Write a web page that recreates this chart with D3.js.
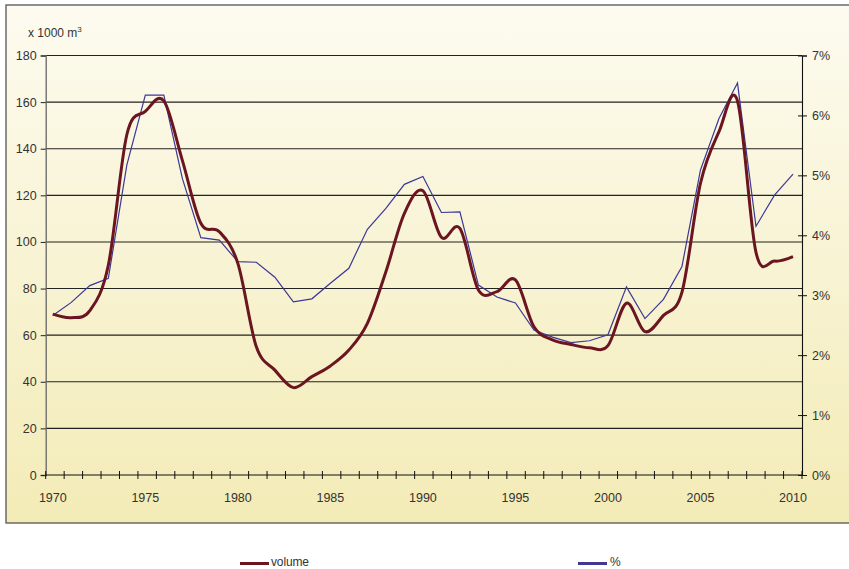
<!DOCTYPE html>
<html><head><meta charset="utf-8">
<script src="https://cdn.jsdelivr.net/npm/d3@7"></script>
<style>body{margin:0;background:#fff}svg{display:block}text{font-family:"Liberation Sans",Arial,sans-serif;fill:#333}</style>
</head><body>
<svg id="c" width="849" height="569"></svg>
<script>
const years = d3.range(1970, 2011);
const volume = [69,67.5,70.5,90,146,156,160.5,135,108,104.4,90.8,55,45,37.5,42.2,46.8,53.6,65.1,87.2,112.3,122,102,105.8,79.4,78.7,83.7,63.6,58,56,54.6,55.5,73.7,61.5,68.5,78.5,125.2,147.3,160.5,95.5,91.8,93.7];
const percent = [2.66,2.88,3.16,3.28,5.17,6.34,6.34,4.95,3.96,3.92,3.56,3.55,3.30,2.89,2.94,3.2,3.45,4.10,4.45,4.85,4.98,4.38,4.39,3.17,2.97,2.87,2.42,2.30,2.21,2.24,2.34,3.14,2.61,2.93,3.48,5.09,5.95,6.54,4.15,4.67,5.02];
const leftTicks = [0,20,40,60,80,100,120,140,160,180];
const rightTicks = [0,1,2,3,4,5,6,7];
const labelYears = [1970,1975,1980,1985,1990,1995,2000,2005,2010];

const svg = d3.select("#c");
const defs = svg.append("defs");
const g = defs.append("linearGradient").attr("id","bg").attr("x1",0).attr("y1",0).attr("x2",0).attr("y2",1);
g.append("stop").attr("offset","0%").attr("stop-color","#fdfbf0");
g.append("stop").attr("offset","100%").attr("stop-color","#f3ebb6");
svg.append("rect").attr("x",6).attr("y",5).attr("width",860).attr("height",518)
  .attr("fill","url(#bg)").attr("stroke","#555").attr("stroke-width",1.3);

const y = d3.scaleLinear().domain([0,180]).range([475,55.5]);
const yr = d3.scaleLinear().domain([0,7]).range([475,55.5]);
const xb = d3.scaleBand().domain(years).range([45.7,802]);
const xp = d3.scalePoint().domain(years).range([52.8,793]);

// gridlines
svg.append("g").selectAll("line").data(leftTicks.slice(1)).join("line")
  .attr("x1",45.7).attr("x2",802).attr("y1",d=>y(d)).attr("y2",d=>y(d))
  .attr("stroke","#222").attr("stroke-width",1.1);

// left axis
const la = svg.append("g").attr("transform","translate(45.7,0)")
  .call(d3.axisLeft(y).tickValues(leftTicks).tickSize(5).tickPadding(4));
la.select(".domain").attr("stroke","#666").attr("stroke-width",1.3);
la.selectAll(".tick line").attr("stroke","#222");
la.selectAll("text").style("font-size","12.5px").attr("fill","#333");

// right axis
const ra = svg.append("g").attr("transform","translate(802,0)")
  .call(d3.axisRight(yr).tickValues(rightTicks).tickFormat(d=>d+"%").tickSize(5).tickPadding(5));
ra.select(".domain").attr("stroke","#111").attr("stroke-width",1.1);
ra.selectAll(".tick line").attr("x1",-4).attr("stroke","#111");
ra.selectAll("text").style("font-size","12.5px").attr("fill","#333");

// x axis
const bounds = years.map(d=>xb(d)).concat([802]);
const xa = svg.append("g");
xa.append("line").attr("x1",45.7).attr("x2",802).attr("y1",475).attr("y2",475).attr("stroke","#111").attr("stroke-width",1.1);
xa.selectAll("line.t").data(bounds).join("line").attr("class","t")
  .attr("x1",d=>d).attr("x2",d=>d).attr("y1",471).attr("y2",479).attr("stroke","#111");
xa.selectAll("text").data(labelYears).join("text")
  .attr("x",d=>xp(d)).attr("y",502).attr("text-anchor","middle").style("font-size","12.5px").text(d=>d);

// axis title
const t = svg.append("text").attr("x",28).attr("y",37).style("font-size","12px");
t.append("tspan").text("x 1000 m");
t.append("tspan").attr("dy",-5).style("font-size","8px").text("3");

// lines
svg.append("path").datum(percent)
  .attr("d", d3.line().x((d,i)=>xp(years[i])).y(d=>yr(d)))
  .attr("fill","none").attr("stroke","#3d3796").attr("stroke-width",1.2);
svg.append("path").datum(volume)
  .attr("d", d3.line().x((d,i)=>xp(years[i])).y(d=>y(d)).curve(d3.curveCardinal.tension(0)))
  .attr("fill","none").attr("stroke","#6b1520").attr("stroke-width",3).attr("stroke-linejoin","round");

// legend
const lg = svg.append("g");
lg.append("line").attr("x1",240).attr("x2",269).attr("y1",563.5).attr("y2",563.5).attr("stroke","#6b1520").attr("stroke-width",3);
lg.append("text").attr("x",271).attr("y",566).style("font-size","12px").attr("textLength",38).text("volume");
lg.append("line").attr("x1",578).attr("x2",607).attr("y1",563.5).attr("y2",563.5).attr("stroke","#3d3796").attr("stroke-width",3);
lg.append("text").attr("x",610).attr("y",566).style("font-size","12px").text("%");
</script>
</body></html>
